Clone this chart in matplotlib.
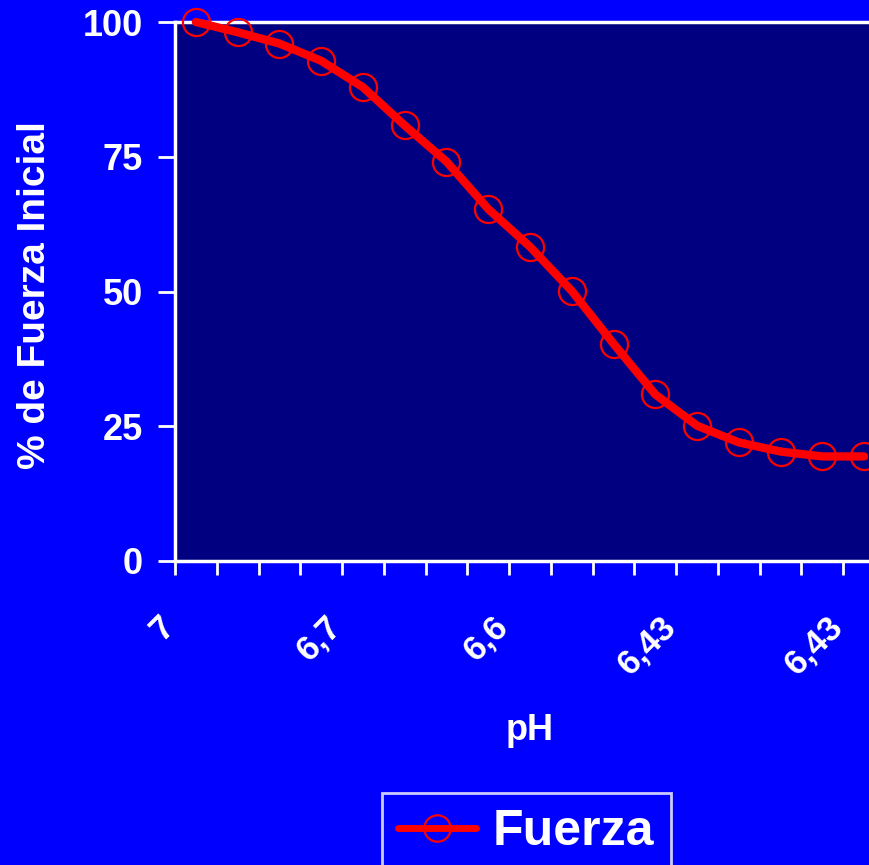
import matplotlib
matplotlib.use("Agg")
import matplotlib.pyplot as plt
import matplotlib.transforms as mtransforms
import numpy as np

categories = ["7", "", "", "", "6,7", "", "", "", "6,6", "", "", "", "6,43", "", "", "", "6,43"]
fuerza = [100.0, 98.1, 96.0, 92.8, 87.9, 80.8, 74.1, 65.3, 58.3, 50.1, 40.3, 30.9, 25.1, 22.0, 20.3, 19.4, 19.4]
yticks = [0, 25, 50, 75, 100]

plt.rcParams['font.family'] = ['Liberation Sans', 'DejaVu Sans']
plt.rcParams['font.weight'] = 'bold'

W, H = 869, 865
fig = plt.figure(figsize=(W/100, H/100), dpi=100, facecolor='#0000FF')
x0, x1, y0, y1 = 175, 885, 22, 561
ax = fig.add_axes([x0/W, 1 - y1/H, (x1-x0)/W, (y1-y0)/H])
ax.set_facecolor('#000080')

n = len(fuerza)
xs = np.arange(n) + 0.5
ax.plot(xs, fuerza, color='#FF0000', lw=6, solid_capstyle='round', solid_joinstyle='round',
        marker='o', markersize=19.5, markerfacecolor='none', markeredgecolor='#FF0000',
        markeredgewidth=1.6, label='Fuerza', clip_on=False, zorder=3)

ax.set_xlim(0, n)
ax.set_ylim(0, 100)
ax.set_yticks(yticks)
ax.set_yticklabels([str(v) for v in yticks], fontsize=26, fontweight='bold', color='white')
ax.set_xticks(np.arange(n + 1))
ax.set_xticklabels([])
ax.set_xticks(xs, minor=True)
ax.set_xticklabels(categories, minor=True, rotation=45, ha='right', va='top',
                   rotation_mode='anchor', fontsize=25, fontweight='bold', color='white')
ax.tick_params(axis='x', which='minor', length=0, pad=35)
ax.tick_params(axis='x', which='major', length=10, width=2, color='white', direction='out')
ax.tick_params(axis='y', length=12, width=2, color='white', direction='out', pad=11)
offset = mtransforms.ScaledTranslation(-38/100, 0, fig.dpi_scale_trans)
for lab in ax.get_xticklabels(minor=True):
    lab.set_transform(lab.get_transform() + offset)
for s in ax.spines.values():
    s.set_color('white')
    s.set_linewidth(2.5)

fig.text(530/W, 1 - 730/H, 'pH', ha='center', va='center', fontsize=26, fontweight='bold', color='white')
fig.text(35/W, 1 - 295/H, '% de Fuerza Inicial', ha='center', va='center', rotation=90,
         fontsize=28, fontweight='bold', color='white')

leg = fig.legend(loc='upper left', bbox_to_anchor=(382/W, 1 - 793/H), fontsize=36,
                 frameon=True, fancybox=False, facecolor='#0000FF', edgecolor='white',
                 handlelength=1.55, handletextpad=0.35, borderpad=0.32, borderaxespad=0)
leg.get_frame().set_linewidth(2)
for t in leg.get_texts():
    t.set_color('white')
    t.set_fontweight('bold')
for h in leg.legend_handles:
    h.set_linewidth(5)
    h.set_markersize(19)

fig.savefig('out.png', dpi=100, facecolor=fig.get_facecolor())
